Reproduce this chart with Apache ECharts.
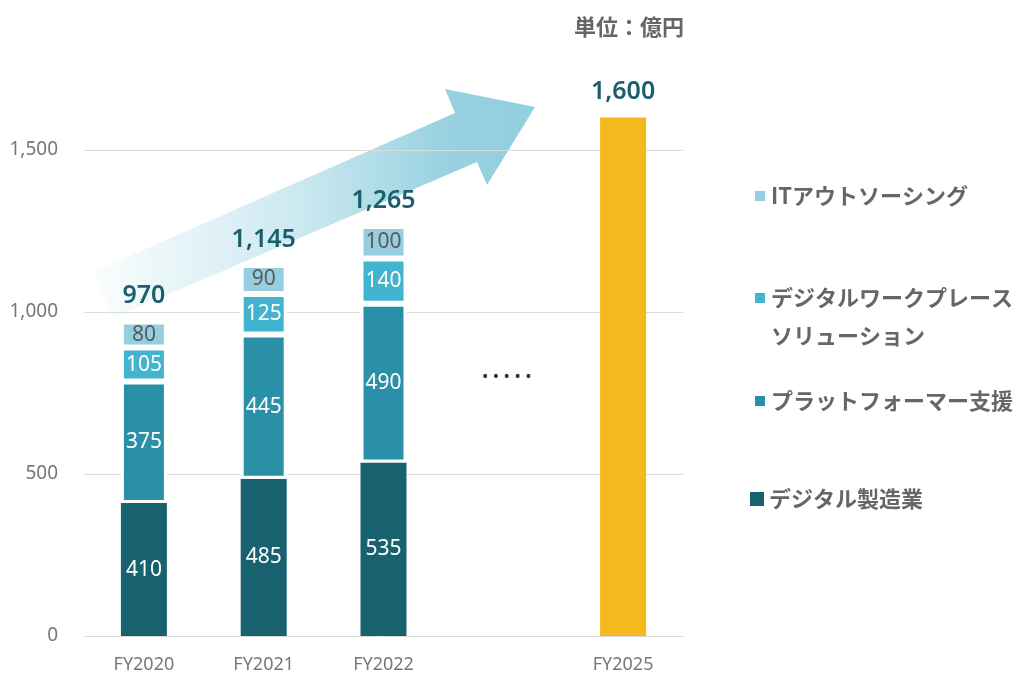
<!DOCTYPE html>
<html>
<head>
<meta charset="utf-8">
<script src="https://cdn.jsdelivr.net/npm/echarts@6/dist/echarts.min.js"></script>
<style>
  html, body { margin: 0; padding: 0; background: #fff; }
  #chart { width: 1032px; height: 675px; }
</style>
</head>
<body>
<div id="chart"></div>
<script>
// 単位：億円
const categories = ['FY2020', 'FY2021', 'FY2022', '', 'FY2025']
const manufacturing = [410, 485, 535, null, null]   // デジタル製造業
const platformer = [375, 445, 490, null, null]      // プラットフォーマー支援
const workplace = [105, 125, 140, null, null]       // デジタルワークプレースソリューション
const itOutsourcing = [80, 90, 100, null, null]     // ITアウトソーシング
const target2025 = [null, null, null, null, 1600]
const totals = [970, 1145, 1265, null, 1600]

const FONT = '"Noto Sans", "Noto Sans CJK JP", sans-serif'
const JP_FONT = '"Noto Sans CJK JP", "Noto Sans", sans-serif'
const fmt = v => String(v).replace(/\B(?=(\d{3})+(?!\d))/g, ',')

const chart = echarts.init(document.getElementById('chart'))

function segment(name, data, color, labelColor, border) {
  return {
    name: name,
    type: 'bar',
    stack: 'total',
    barWidth: 46,
    barGap: '-100%',
    data: data,
    itemStyle: {
      color: color,
      borderColor: '#fff',
      borderWidth: border ? 3 : 0
    },
    label: {
      show: true,
      position: 'inside',
      color: labelColor,
      fontSize: 21,
      fontFamily: FONT
    }
  }
}

function legendFor(name, top, size, extra) {
  return Object.assign({
    data: [name],
    left: size > 12 ? 750 : 753,
    top: top,
    padding: 0,
    icon: 'rect',
    itemWidth: size,
    itemHeight: size,
    selectedMode: false,
    textStyle: {
      color: '#666',
      fontSize: 22,
      fontWeight: 'bold',
      fontFamily: JP_FONT,
      lineHeight: 38
    }
  }, extra || {})
}

chart.setOption({
  animation: false,
  title: {
    text: '単位：億円',
    left: 574,
    top: 16,
    padding: 0,
    textStyle: {
      color: '#666',
      fontSize: 22,
      fontWeight: 'bold',
      fontFamily: JP_FONT
    }
  },
  grid: {
    left: 84,
    right: 349,
    top: 85,
    bottom: 39
  },
  legend: [
    legendFor('ITアウトソーシング', 177, 12),
    // first line sits level with the icon, so pad with an empty line above
    legendFor('デジタルワークプレースソリューション', 241, 12, {
      formatter: () => '\nデジタルワークプレース\nソリューション'
    }),
    legendFor('プラットフォーマー支援', 382, 12),
    legendFor('デジタル製造業', 480, 14)
  ],
  xAxis: {
    type: 'category',
    data: categories,
    axisLine: { show: false },
    axisTick: { show: false },
    axisLabel: {
      color: '#777',
      fontSize: 18,
      margin: 20,
      fontFamily: FONT
    }
  },
  yAxis: {
    type: 'value',
    min: 0,
    max: 1700,
    interval: 500,
    axisLine: { show: false },
    axisTick: { show: false },
    axisLabel: {
      color: '#777',
      fontSize: 19,
      margin: 26,
      fontFamily: FONT,
      showMaxLabel: false,
      formatter: v => (v > 1500 ? '' : fmt(v))
    },
    splitLine: {
      lineStyle: {
        color: ['#dcdcdc', '#dcdcdc', '#dcdcdc', '#dcdcdc', 'rgba(0,0,0,0)'],
        width: 1
      }
    }
  },
  graphic: [
    {
      type: 'polygon',
      z: -1,
      silent: true,
      shape: {
        points: [[93, 272], [455, 113], [445, 89], [535, 107], [487, 185], [477, 162], [113, 318]]
      },
      style: {
        fill: {
          type: 'linear',
          x: 0, y: 0, x2: 1, y2: 0,
          colorStops: [
            { offset: 0, color: 'rgba(146,207,223,0.04)' },
            { offset: 0.45, color: 'rgba(146,207,223,0.45)' },
            { offset: 0.8, color: 'rgba(146,207,223,0.95)' },
            { offset: 1, color: 'rgba(146,207,223,1)' }
          ]
        }
      }
    },
    {
      type: 'text',
      left: 482,
      top: 369,
      silent: true,
      style: {
        text: '• • • • •',
        fill: '#333',
        fontSize: 17,
        fontFamily: FONT
      }
    }
  ],
  series: [
    segment('デジタル製造業', manufacturing, '#186270', '#fff', false),
    segment('プラットフォーマー支援', platformer, '#2a90a8', '#fff', true),
    segment('デジタルワークプレースソリューション', workplace, '#42b4cf', '#fff', true),
    segment('ITアウトソーシング', itOutsourcing, '#95cfdf', '#5a5a5a', true),
    {
      name: 'FY2025',
      type: 'bar',
      stack: 'total',
      barWidth: 46,
      barGap: '-100%',
      data: target2025,
      itemStyle: { color: '#f3b91f' }
    },
    {
      name: '合計',
      type: 'bar',
      barWidth: 46,
      barGap: '-100%',
      data: totals,
      itemStyle: { color: 'rgba(0,0,0,0)' },
      label: {
        show: true,
        position: 'top',
        distance: 13,
        color: '#1b5f6e',
        fontSize: 25,
        fontWeight: 600,
        fontFamily: FONT,
        formatter: p => fmt(p.value)
      }
    }
  ]
})
</script>
</body>
</html>
